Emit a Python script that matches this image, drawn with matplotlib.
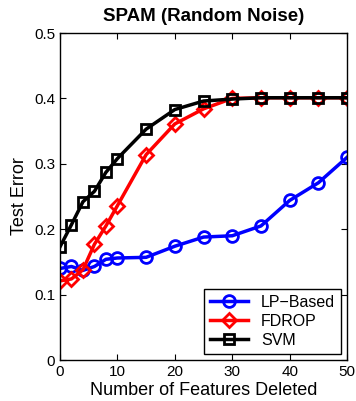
import matplotlib
matplotlib.use('Agg')
import matplotlib.pyplot as plt
from matplotlib.ticker import FuncFormatter

plt.rcParams['font.family'] = ['Liberation Sans', 'DejaVu Sans']

# features deleted
x = [0, 2, 4, 6, 8, 10, 15, 20, 25, 30, 35, 40, 45, 50]

# test error per method
lp_based = [0.140, 0.143, 0.137, 0.143, 0.154, 0.156, 0.157, 0.174, 0.188, 0.190, 0.205, 0.244, 0.271, 0.310]
fdrop = [0.121, 0.124, 0.138, 0.177, 0.205, 0.236, 0.314, 0.361, 0.384, 0.400, 0.401, 0.401, 0.401, 0.401]
svm = [0.173, 0.207, 0.242, 0.258, 0.287, 0.308, 0.353, 0.383, 0.396, 0.399, 0.401, 0.401, 0.401, 0.401]

fig = plt.figure(figsize=(3.56, 4.01), dpi=100)
ax = fig.add_axes([0.1685, 0.1022, 0.8065, 0.8155])

ax.plot(x, lp_based, color='blue', marker='o', mfc='none', mec='blue', ms=8.5, mew=2, lw=2.5, label='LP\u2212Based')
ax.plot(x, fdrop, color='red', marker='D', mfc='none', mec='red', ms=7, mew=2, lw=2.5, label='FDROP')
ax.plot(x, svm, color='black', marker='s', mfc='none', mec='black', ms=7, mew=2, lw=2.5, label='SVM')

ax.set_xlim(0, 50)
ax.set_ylim(0, 0.5)
ax.set_xticks([0, 10, 20, 30, 40, 50])
ax.set_yticks([0, 0.1, 0.2, 0.3, 0.4, 0.5])
ax.yaxis.set_major_formatter(FuncFormatter(lambda v, p: '0' if v == 0 else f'{v:g}'))
ax.tick_params(direction='in', top=True, right=True, labelsize=11, length=4)
for s in ax.spines.values():
    s.set_linewidth(1.0)

ax.set_xlabel('Number of Features Deleted', fontsize=13, labelpad=2)
ax.set_ylabel('Test Error', fontsize=13)
ax.set_title('SPAM (Random Noise)', fontsize=13.5, fontweight='bold', pad=9)

leg = ax.legend(loc='lower right', fontsize=11.5, fancybox=False, framealpha=1,
                edgecolor='black', handlelength=2.4, borderpad=0.35, labelspacing=0.25,
                borderaxespad=0.4)
leg.get_frame().set_linewidth(1.0)

fig.savefig('out.png', dpi=100)
